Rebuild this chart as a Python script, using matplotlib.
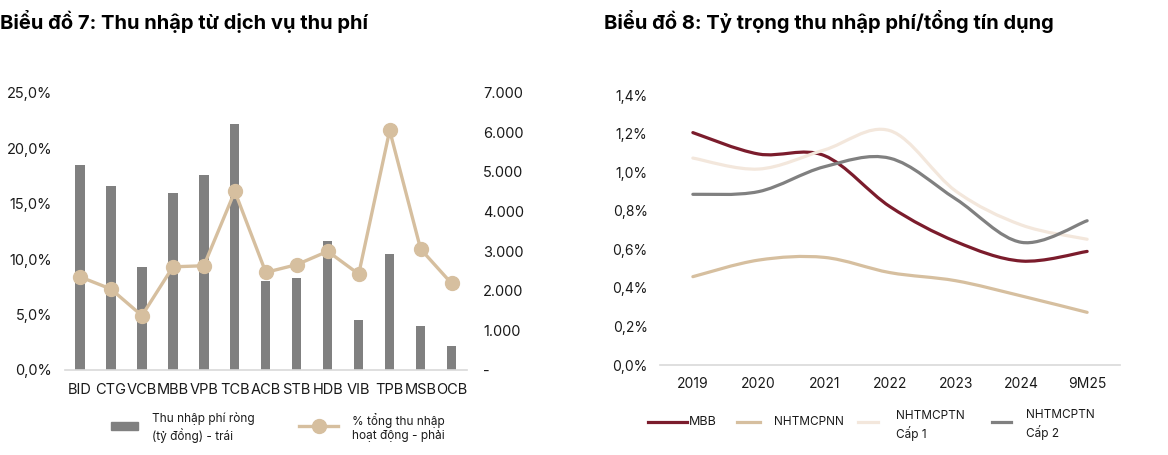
import matplotlib
matplotlib.use("Agg")
import matplotlib.pyplot as plt
import numpy as np
from matplotlib.path import Path
from matplotlib.patches import PathPatch, Rectangle
from matplotlib.lines import Line2D
from matplotlib.ticker import FuncFormatter

plt.rcParams['font.family'] = ['Inter', 'DejaVu Sans']

# ---------------- Data: chart 7 ----------------
banks = ["BID", "CTG", "VCB", "MBB", "VPB", "TCB", "ACB", "STB", "HDB", "VIB", "TPB", "MSB", "OCB"]
fee_income = [5170, 4640, 2600, 4480, 4910, 6210, 2250, 2310, 3250, 1260, 2930, 1100, 600]   # tỷ đồng
fee_share = [8.4, 7.3, 4.9, 9.3, 9.4, 16.1, 8.8, 9.5, 10.7, 8.65, 21.6, 10.9, 7.8]             # %

left_ticks = [0, 5, 10, 15, 20, 25]
right_ticks = [0, 1000, 2000, 3000, 4000, 5000, 6000, 7000]

# ---------------- Data: chart 8 ----------------
years = ["2019", "2020", "2021", "2022", "2023", "2024", "9M25"]
mbb = [1.205, 1.094, 1.086, 0.821, 0.640, 0.539, 0.589]
nhtmcpnn = [0.458, 0.544, 0.558, 0.479, 0.437, 0.358, 0.273]
cap1 = [1.073, 1.016, 1.115, 1.215, 0.902, 0.726, 0.652]
cap2 = [0.885, 0.899, 1.028, 1.072, 0.861, 0.636, 0.748]
y8_ticks = [0.0, 0.2, 0.4, 0.6, 0.8, 1.0, 1.2, 1.4]

series8 = [("MBB", mbb, "#7B1C2C"),
           ("NHTMCPNN", nhtmcpnn, "#D6BF9F"),
           ("NHTMCPTN\nCấp 1", cap1, "#F3E7DC"),
           ("NHTMCPTN\nCấp 2", cap2, "#808080")]

BAR = "#808080"
TAN = "#D6BF9F"
TXT = "#1a1a1a"
GRID = "#D9D9D9"

W, H = 1168, 455
fig = plt.figure(figsize=(W / 100, H / 100), dpi=100)


def fx(px):
    return px / W


def fy(py):
    return 1 - py / H


def smooth_path(xs, ys):
    pts = np.column_stack([xs, ys]).astype(float)
    n = len(pts)
    verts = [pts[0]]
    codes = [Path.MOVETO]
    for i in range(n - 1):
        p0 = pts[i - 1] if i > 0 else pts[i]
        p1 = pts[i]
        p2 = pts[i + 1]
        p3 = pts[i + 2] if i + 2 < n else pts[i + 1]
        c1 = p1 + (p2 - p0) / 6.0
        c2 = p2 - (p3 - p1) / 6.0
        verts += [c1, c2, p2]
        codes += [Path.CURVE4] * 3
    return Path(verts, codes)


# ---------------- Chart 7 ----------------
pos7 = [fx(64.5), fy(370), fx(402.6), (370 - 92.7) / H]
x = np.arange(len(banks))

# bars (numeric scale) in a background axes
axb = fig.add_axes(pos7)
axb.set_zorder(0)
axb.bar(x, fee_income, width=0.3, color=BAR, zorder=2)
axb.set_xlim(-0.5, len(banks) - 0.5)
axb.set_ylim(0, 7000)
axb.axis("off")

# percent axis (left) with line
ax1 = fig.add_axes(pos7)
ax1.set_zorder(1)
ax1.patch.set_visible(False)
ax1.plot(x, fee_share, color=TAN, lw=2.4, marker="o", ms=10, zorder=3, clip_on=False)
ax1.set_xlim(-0.5, len(banks) - 0.5)
ax1.set_ylim(0, 25)
ax1.set_yticks(left_ticks)
ax1.yaxis.set_major_formatter(FuncFormatter(lambda v, p: f"{v:.1f}%".replace(".", ",")))
ax1.set_xticks(x)
ax1.set_xticklabels(banks)
for s in ["top", "right", "left"]:
    ax1.spines[s].set_visible(False)
ax1.spines["bottom"].set_color(GRID)
ax1.spines["bottom"].set_linewidth(1.2)
ax1.tick_params(axis="y", length=0, pad=9, labelsize=10.5, labelcolor=TXT)
ax1.tick_params(axis="x", length=0, pad=9, labelsize=10.5, labelcolor=TXT)

# numeric axis labels (right)
ax2 = fig.add_axes(pos7)
ax2.set_zorder(2)
ax2.patch.set_visible(False)
ax2.set_ylim(0, 7000)
ax2.set_yticks(right_ticks)
ax2.yaxis.tick_right()
ax2.yaxis.set_major_formatter(FuncFormatter(lambda v, p: "-" if v == 0 else f"{int(v):,}".replace(",", ".")))
for s in ["top", "right", "left", "bottom"]:
    ax2.spines[s].set_visible(False)
ax2.tick_params(axis="y", length=0, pad=11.5, labelsize=10.5, labelcolor=TXT)
ax2.set_xticks([])

fig.text(fx(0), fy(22), "Biểu đồ 7: Thu nhập từ dịch vụ thu phí", fontsize=14.5, fontweight="bold",
         va="center", ha="left", color="#000000")

# legend chart 7
fig.add_artist(Rectangle((fx(111), fy(430)), fx(27), 8 / H, transform=fig.transFigure, color=BAR))
fig.text(fx(152), fy(427.5), "Thu nhập phí ròng\n(tỷ đồng) - trái", fontsize=8.5, va="center", ha="left",
         color=TXT, linespacing=1.25)
fig.add_artist(Line2D([fx(299), fx(338)], [fy(426), fy(426)], transform=fig.transFigure, color=TAN, lw=2.4))
fig.add_artist(Line2D([fx(318.5)], [fy(426)], transform=fig.transFigure, color=TAN, marker="o", ms=10))
fig.text(fx(352), fy(427.5), "% tổng thu nhập\nhoạt động - phải", fontsize=8.5, va="center", ha="left",
         color=TXT, linespacing=1.25)

# ---------------- Chart 8 ----------------
ax8 = fig.add_axes([fx(660), fy(365), fx(460), (365 - 95) / H])
xx = np.arange(len(years))
for name, vals, col in series8:
    ax8.add_patch(PathPatch(smooth_path(xx, vals), facecolor="none", edgecolor=col, lw=2.3,
                            capstyle="round", zorder=3))
ax8.set_xlim(-0.5, len(years) - 0.5)
ax8.set_ylim(0, 1.4)
ax8.set_yticks(y8_ticks)
ax8.yaxis.set_major_formatter(FuncFormatter(lambda v, p: f"{v:.1f}%".replace(".", ",")))
ax8.set_xticks(xx)
ax8.set_xticklabels(years)
for s in ["top", "right", "left"]:
    ax8.spines[s].set_visible(False)
ax8.spines["bottom"].set_color(GRID)
ax8.spines["bottom"].set_linewidth(1.2)
ax8.tick_params(axis="y", length=0, pad=9, labelsize=10, labelcolor=TXT)
ax8.tick_params(axis="x", length=0, pad=9, labelsize=10, labelcolor=TXT)

fig.text(fx(604), fy(22), "Biểu đồ 8: Tỷ trọng thu nhập phí/tổng tín dụng", fontsize=14.5, fontweight="bold",
         va="center", ha="left", color="#000000")

# legend chart 8
leg_pos = [(647.7, 687, 689, 422), (736.7, 760, 774, 422), (858, 878, 895.7, 425.5), (992, 1011, 1026, 424.5)]
for (name, vals, col), (x0, x1, tx, ty) in zip(series8, leg_pos):
    fig.add_artist(Line2D([fx(x0), fx(x1)], [fy(422), fy(422)], transform=fig.transFigure, color=col, lw=2.3))
    fig.text(fx(tx), fy(ty), name, fontsize=9 if name == "MBB" else 8.5, va="center", ha="left",
             color=TXT, linespacing=1.3)

fig.savefig("out.png", dpi=100, facecolor="white")
